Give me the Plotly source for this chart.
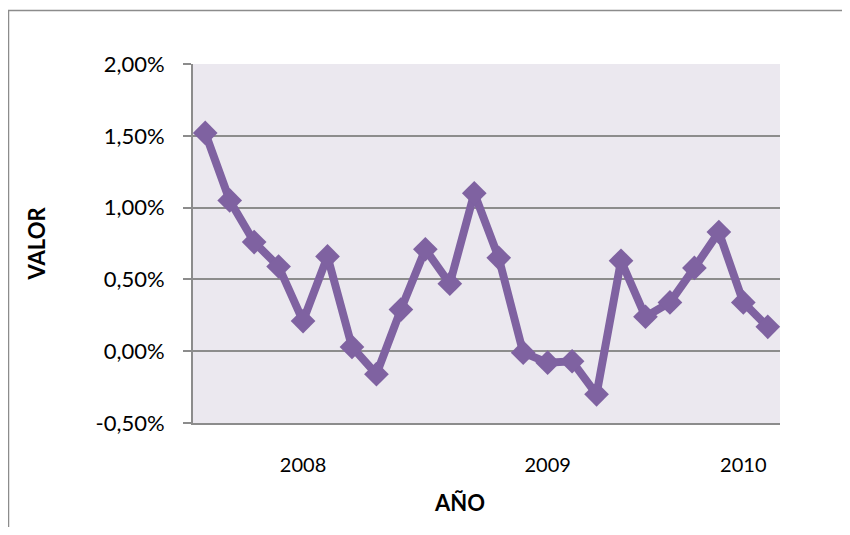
import plotly.graph_objects as go

# Data (percent values)
period_index = list(range(24))
valor = [1.52, 1.05, 0.76, 0.59, 0.21, 0.66, 0.03, -0.16, 0.29, 0.71, 0.47, 1.10,
         0.65, -0.01, -0.08, -0.07, -0.30, 0.63, 0.24, 0.34, 0.58, 0.83, 0.34, 0.17]
year_tick_positions = [4, 14, 22]
year_tick_labels = ["2008", "2009", "2010"]
y_tick_values = [-0.5, 0.0, 0.5, 1.0, 1.5, 2.0]
y_tick_labels = ["-0,50%", "0,00%", "0,50%", "1,00%", "1,50%", "2,00%"]

purple = "#7F62A1"
grid = "#8C8C8C"
font_family = "Lato, 'Open Sans', sans-serif"

# page body has an 8px margin, so figure coords = page coords - 8
W, H = 834, 519
L, T = 185, 56          # plot left/top in figure coords
PR, PB = 772, 415       # plot right/bottom in figure coords
PW, PH = PR - L, PB - T

def px(xf):
    return (xf - L) / PW

def py(yf):
    return (PB - yf) / PH

fig = go.Figure()
fig.add_trace(go.Scatter(
    x=period_index, y=valor, mode="lines+markers",
    line=dict(color=purple, width=8),
    marker=dict(symbol="diamond", size=19, color=purple),
    showlegend=False, cliponaxis=False,
))

fig.update_layout(
    width=W, height=H,
    margin=dict(l=L, r=W - PR, t=T, b=H - PB),
    paper_bgcolor="white",
    plot_bgcolor="#EBE8EF",
    font=dict(family=font_family, size=20, color="black"),
    xaxis=dict(
        range=[-0.5, 23.5], tickmode="array",
        tickvals=year_tick_positions, ticktext=year_tick_labels,
        showgrid=False, zeroline=False, showline=True, linecolor=grid, linewidth=2,
        ticks="", ticklabelstandoff=23, tickfont=dict(size=20),
    ),
    yaxis=dict(
        range=[-0.5, 2.0], tickmode="array",
        tickvals=y_tick_values, ticktext=y_tick_labels,
        showgrid=True, gridcolor=grid, gridwidth=2,
        zeroline=False, showline=True, linecolor=grid, linewidth=2,
        ticks="outside", ticklen=8, tickcolor=grid, tickwidth=2,
        ticklabelstandoff=14, tickfont=dict(size=22),
    ),
    shapes=[dict(type="rect", xref="paper", yref="paper",
                 x0=px(0.5), x1=1.3, y0=-0.6, y1=py(2.5),
                 line=dict(color="#8C8C8C", width=1.5), fillcolor="rgba(0,0,0,0)",
                 layer="below")],
    annotations=[
        dict(text="<b>VALOR</b>", xref="paper", yref="paper",
             x=px(36 - 8), y=0.5, textangle=-90, showarrow=False,
             font=dict(size=22), xanchor="center", yanchor="middle"),
        dict(text="<b>AÑO</b>", xref="paper", yref="paper",
             x=px(459 - 8), y=py(502 - 8), showarrow=False,
             font=dict(size=22), xanchor="center", yanchor="middle"),
    ],
)

fig.write_html("out.html")
